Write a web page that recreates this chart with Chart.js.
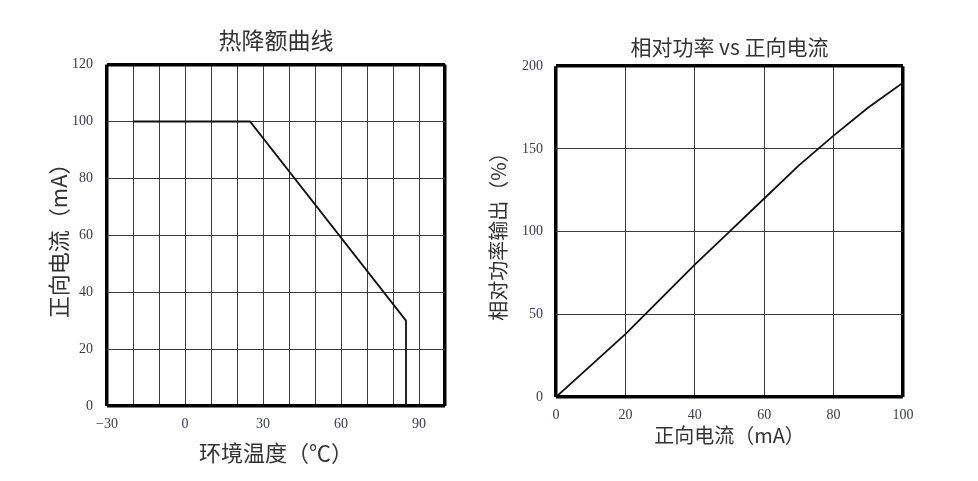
<!DOCTYPE html>
<html>
<head>
<meta charset="utf-8">
<script src="https://cdn.jsdelivr.net/npm/chart.js@4/dist/chart.umd.min.js"></script>
<style>
  html, body { margin: 0; padding: 0; background: #fff; }
  #wrap { position: relative; width: 978px; height: 481px; overflow: hidden; }
  #c1 { position: absolute; left: 0; top: 0; }
  #c2 { position: absolute; left: 470px; top: 0; }
</style>
</head>
<body>
<div id="wrap">
  <canvas id="c1" width="470" height="481"></canvas>
  <canvas id="c2" width="508" height="481"></canvas>
</div>
<script>
// ---- Data: thermal derating curve ----
const derateTemp = [-20, 25, 85, 85];       // ambient temperature (°C)
const derateCurrent = [100, 100, 30, 0];     // forward current (mA)
const derateXTicks = [-30, 0, 30, 60, 90];   // labelled x ticks

// ---- Data: relative power vs forward current ----
const currentMA = [0, 10, 20, 30, 40, 50, 60, 70, 80, 90, 100];
const relPower  = [0, 19, 38, 59, 80, 100, 120, 140, 158, 175, 190];

// ---- Text ----
const title1 = '热降额曲线';
const xTitle1 = '环境温度（℃）';
const yTitle1 = '正向电流（mA）';
const title2 = '相对功率 vs 正向电流';
const xTitle2 = '正向电流（mA）';
const yTitle2 = '相对功率输出（%）';

const CJK = '"Noto Sans CJK SC", "Noto Sans", sans-serif';
const SERIF = '"Liberation Serif", "DejaVu Serif", serif';
const TICK_COLOR = '#3a3a4a';
const TEXT_COLOR = '#333';
const GRID_COLOR = '#3c3c3c';

function edgeWidth(min, max) {
  return (ctx) => (ctx.tick && (ctx.tick.value === min || ctx.tick.value === max)) ? 3.5 : 1;
}
function edgeColor(min, max) {
  return (ctx) => (ctx.tick && (ctx.tick.value === min || ctx.tick.value === max)) ? '#000' : GRID_COLOR;
}

// ---------- Chart 1 ----------
new Chart(document.getElementById('c1'), {
  type: 'line',
  data: {
    datasets: [{
      data: derateTemp.map((t, i) => ({ x: t, y: derateCurrent[i] })),
      borderColor: '#111',
      borderWidth: 1.8,
      pointRadius: 0,
      tension: 0,
      fill: false
    }]
  },
  options: {
    responsive: false,
    animation: false,
    devicePixelRatio: 1,
    layout: { padding: { left: 0, right: 25, top: 0, bottom: 0 } },
    plugins: {
      legend: { display: false },
      tooltip: { enabled: false },
      title: {
        display: true,
        fullSize: false,
        text: title1,
        color: TEXT_COLOR,
        font: { family: CJK, size: 23, weight: 'normal', lineHeight: 1.2 },
        padding: { top: 26, bottom: 11 }
      }
    },
    scales: {
      x: {
        type: 'linear',
        min: -30, max: 100,
        afterFit: (s) => { s.height = 75; },
        border: { display: false },
        grid: { color: edgeColor(-30, 100), lineWidth: edgeWidth(-30, 100), drawTicks: false },
        ticks: {
          stepSize: 10,
          padding: 10,
          maxRotation: 0,
          autoSkip: false,
          color: TICK_COLOR,
          font: { family: SERIF, size: 14 },
          callback: (v) => derateXTicks.includes(v) ? (v < 0 ? '−' + Math.abs(v) : String(v)) : ''
        },
        title: {
          display: true,
          text: xTitle1,
          color: TEXT_COLOR,
          font: { family: CJK, size: 22, lineHeight: 1.2 },
          padding: { top: 15, bottom: 15 }
        }
      },
      y: {
        type: 'linear',
        min: 0, max: 120,
        afterFit: (s) => { s.width = 107; },
        border: { display: false },
        grid: { color: edgeColor(0, 120), lineWidth: edgeWidth(0, 120), drawTicks: false },
        ticks: {
          stepSize: 20,
          padding: 14,
          color: TICK_COLOR,
          font: { family: SERIF, size: 14 }
        },
        title: {
          display: true,
          text: yTitle1,
          color: TEXT_COLOR,
          font: { family: CJK, size: 22, lineHeight: 1.2 },
          padding: { top: 45, bottom: 0 }
        }
      }
    }
  }
});

// ---------- Chart 2 ----------
new Chart(document.getElementById('c2'), {
  type: 'line',
  data: {
    datasets: [{
      data: currentMA.map((c, i) => ({ x: c, y: relPower[i] })),
      borderColor: '#111',
      borderWidth: 1.8,
      pointRadius: 0,
      tension: 0,
      fill: false
    }]
  },
  options: {
    responsive: false,
    animation: false,
    devicePixelRatio: 1,
    layout: { padding: { left: 0, right: 75, top: 0, bottom: 0 } },
    plugins: {
      legend: { display: false },
      tooltip: { enabled: false },
      title: {
        display: true,
        fullSize: false,
        text: title2,
        color: TEXT_COLOR,
        font: { family: CJK, size: 21, weight: 'normal', lineHeight: 1.2 },
        padding: { top: 34, bottom: 7 }
      }
    },
    scales: {
      x: {
        type: 'linear',
        min: 0, max: 100,
        afterFit: (s) => { s.height = 84; },
        border: { display: false },
        grid: { color: edgeColor(0, 100), lineWidth: edgeWidth(0, 100), drawTicks: false },
        ticks: {
          stepSize: 20,
          padding: 10,
          maxRotation: 0,
          color: TICK_COLOR,
          font: { family: SERIF, size: 14 }
        },
        title: {
          display: true,
          text: xTitle2,
          color: TEXT_COLOR,
          font: { family: CJK, size: 20, lineHeight: 1.2 },
          padding: { top: 34, bottom: 34 }
        }
      },
      y: {
        type: 'linear',
        min: 0, max: 200,
        afterFit: (s) => { s.width = 86; },
        border: { display: false },
        grid: { color: edgeColor(0, 200), lineWidth: edgeWidth(0, 200), drawTicks: false },
        ticks: {
          stepSize: 50,
          padding: 13,
          color: TICK_COLOR,
          font: { family: SERIF, size: 14 }
        },
        title: {
          display: true,
          text: yTitle2,
          color: TEXT_COLOR,
          font: { family: CJK, size: 20, lineHeight: 1.2 },
          padding: { top: 16, bottom: 0 }
        }
      }
    }
  }
});
</script>
</body>
</html>
